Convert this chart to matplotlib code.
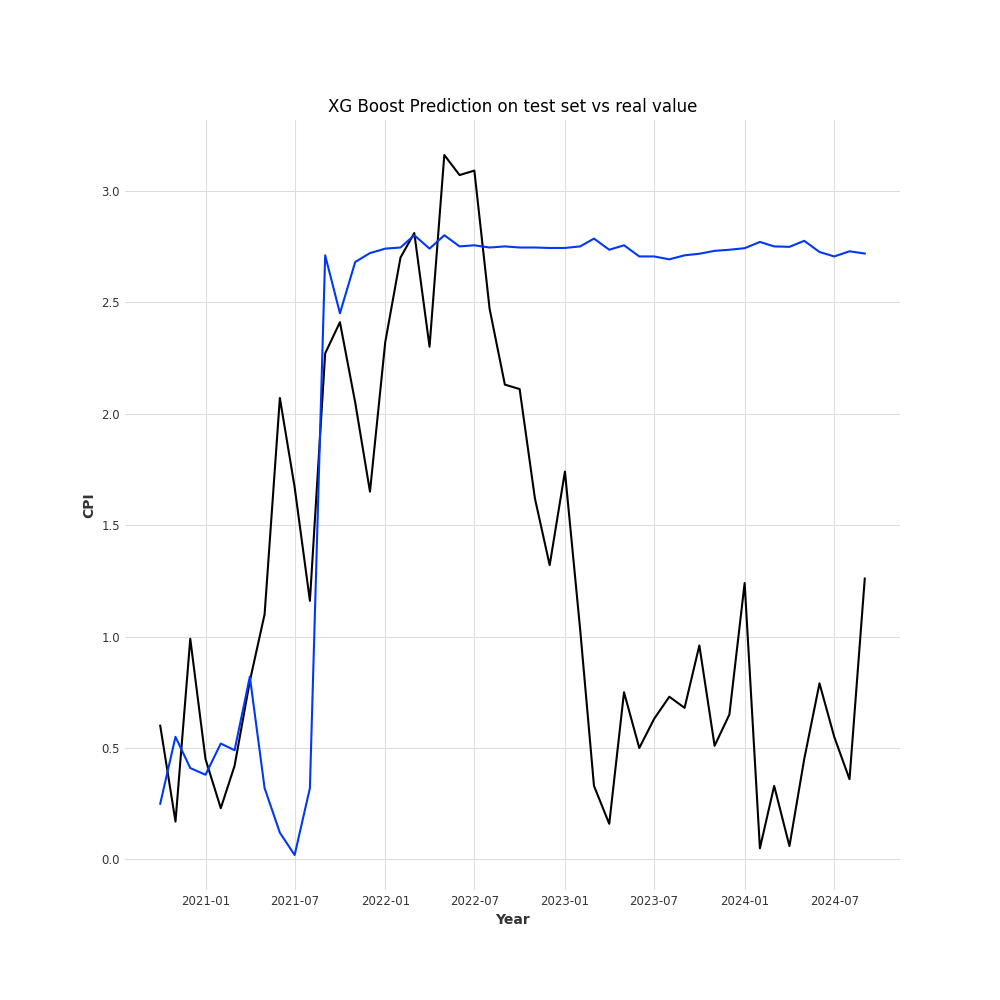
import pandas as pd
import matplotlib.pyplot as plt
import matplotlib.dates as mdates

dates = pd.date_range('2020-10-01', periods=48, freq='MS')

real = [0.60, 0.17, 0.99, 0.45, 0.23, 0.42, 0.80, 1.10, 2.07, 1.67, 1.16, 2.27,
        2.41, 2.05, 1.65, 2.32, 2.70, 2.81, 2.30, 3.16, 3.07, 3.09, 2.47, 2.13,
        2.11, 1.62, 1.32, 1.74, 1.03, 0.33, 0.16, 0.75, 0.50, 0.63, 0.73, 0.68,
        0.96, 0.51, 0.65, 1.24, 0.05, 0.33, 0.06, 0.45, 0.79, 0.55, 0.36, 1.26]

pred = [0.25, 0.55, 0.41, 0.38, 0.52, 0.49, 0.82, 0.32, 0.12, 0.02, 0.32, 2.71,
        2.45, 2.68, 2.72, 2.74, 2.745, 2.80, 2.74, 2.80, 2.75, 2.755, 2.745, 2.75,
        2.745, 2.745, 2.743, 2.743, 2.75, 2.785, 2.735, 2.755, 2.705, 2.705, 2.692, 2.71,
        2.717, 2.73, 2.735, 2.742, 2.77, 2.75, 2.748, 2.775, 2.725, 2.705, 2.728, 2.718]

fig, ax = plt.subplots(figsize=(10, 10), dpi=100)
ax.plot(dates, real, color='black', linewidth=1.5)
ax.plot(dates, pred, color='#0039f5', linewidth=1.5)

ax.set_title('XG Boost Prediction on test set vs real value', fontsize=12)
ax.set_xlabel('Year', fontsize=10, fontweight='bold', color='#333333')
ax.set_ylabel('CPI', fontsize=10, fontweight='bold', color='#333333')
ax.xaxis.set_major_locator(mdates.MonthLocator(bymonth=[1, 7]))
ax.xaxis.set_major_formatter(mdates.DateFormatter('%Y-%m'))
ax.set_yticks([0.0, 0.5, 1.0, 1.5, 2.0, 2.5, 3.0])
ax.tick_params(labelsize=8.5, length=0, colors='#333333')
ax.grid(True, color='#dddddd', linewidth=0.8)
for s in ax.spines.values():
    s.set_visible(False)

plt.savefig('out.png', dpi=100)
